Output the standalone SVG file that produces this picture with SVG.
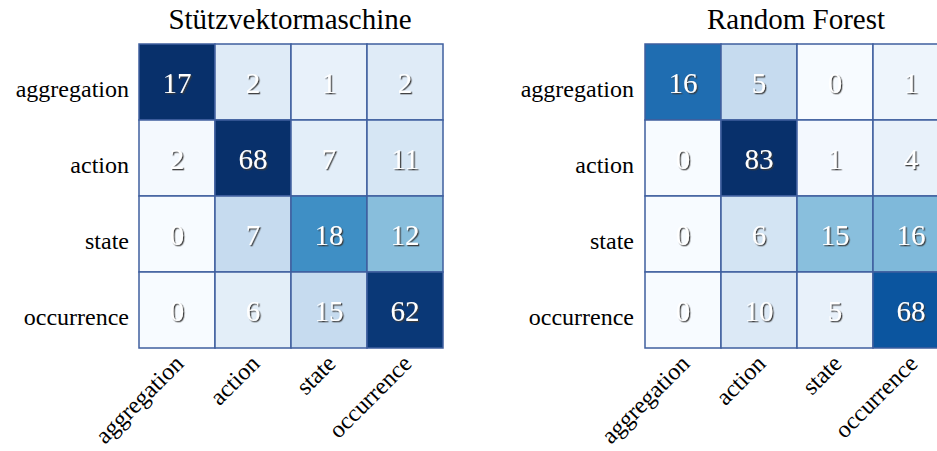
<svg xmlns="http://www.w3.org/2000/svg" width="937" height="451" viewBox="0 0 937 451" font-family="'Liberation Serif', 'Times New Roman', serif">
<defs>
<filter id="sh" x="-20%" y="-20%" width="140%" height="140%">
<feDropShadow dx="1.3" dy="1.3" stdDeviation="0.6" flood-color="#3a3a3a" flood-opacity="0.95"/>
</filter>
</defs>
<style>
.title{font-family:"Liberation Serif","Times New Roman",serif;font-size:29px;fill:#000;text-anchor:middle;}
.yl{font-family:"Liberation Serif","Times New Roman",serif;font-size:24px;fill:#000;text-anchor:end;}
.xl{font-family:"Liberation Serif","Times New Roman",serif;font-size:24px;fill:#000;text-anchor:end;}
.num{font-family:"Liberation Serif","Times New Roman",serif;font-size:29px;fill:#fff;text-anchor:middle;filter:url(#sh);}
.cell{stroke:#3f5f9f;stroke-width:1.5;}
</style>
<rect width="937" height="451" fill="#fff"/>

<g id="svm">
<text class="title" x="290" y="29">Stützvektormaschine</text>
<g id="svm-cells">
<rect class="cell" x="139" y="44" width="76" height="76" fill="#08306b"/>
<rect class="cell" x="215" y="44" width="76" height="76" fill="#dfebf7"/>
<rect class="cell" x="291" y="44" width="76" height="76" fill="#e8f1fa"/>
<rect class="cell" x="367" y="44" width="76" height="76" fill="#dfebf7"/>
<rect class="cell" x="139" y="120" width="76" height="76" fill="#f4f9fe"/>
<rect class="cell" x="215" y="120" width="76" height="76" fill="#08306b"/>
<rect class="cell" x="291" y="120" width="76" height="76" fill="#e3eef9"/>
<rect class="cell" x="367" y="120" width="76" height="76" fill="#d6e6f4"/>
<rect class="cell" x="139" y="196" width="76" height="76" fill="#f7fbff"/>
<rect class="cell" x="215" y="196" width="76" height="76" fill="#c6dbef"/>
<rect class="cell" x="291" y="196" width="76" height="76" fill="#3f8fc5"/>
<rect class="cell" x="367" y="196" width="76" height="76" fill="#88bedc"/>
<rect class="cell" x="139" y="272" width="76" height="76" fill="#f7fbff"/>
<rect class="cell" x="215" y="272" width="76" height="76" fill="#e3eef8"/>
<rect class="cell" x="291" y="272" width="76" height="76" fill="#c6dbef"/>
<rect class="cell" x="367" y="272" width="76" height="76" fill="#0a3877"/>
</g>
<g id="svm-values">
<text class="num" x="177" y="93">17</text>
<text class="num" x="253" y="93">2</text>
<text class="num" x="329" y="93">1</text>
<text class="num" x="405" y="93">2</text>
<text class="num" x="177" y="169">2</text>
<text class="num" x="253" y="169">68</text>
<text class="num" x="329" y="169">7</text>
<text class="num" x="405" y="169">11</text>
<text class="num" x="177" y="245">0</text>
<text class="num" x="253" y="245">7</text>
<text class="num" x="329" y="245">18</text>
<text class="num" x="405" y="245">12</text>
<text class="num" x="177" y="321">0</text>
<text class="num" x="253" y="321">6</text>
<text class="num" x="329" y="321">15</text>
<text class="num" x="405" y="321">62</text>
</g>
<g id="svm-ylabels">
<text class="yl" x="129" y="97">aggregation</text>
<text class="yl" x="129" y="173">action</text>
<text class="yl" x="129" y="249">state</text>
<text class="yl" x="129" y="325">occurrence</text>
</g>
<g id="svm-xlabels">
<text class="xl" transform="translate(185,365) rotate(-45)">aggregation</text>
<text class="xl" transform="translate(261,365) rotate(-45)">action</text>
<text class="xl" transform="translate(337,365) rotate(-45)">state</text>
<text class="xl" transform="translate(413,365) rotate(-45)">occurrence</text>
</g>
</g>

<g id="rf">
<text class="title" x="796" y="29">Random Forest</text>
<g id="rf-cells">
<rect class="cell" x="645" y="44" width="76" height="76" fill="#1f6db1"/>
<rect class="cell" x="721" y="44" width="76" height="76" fill="#c6dbef"/>
<rect class="cell" x="797" y="44" width="76" height="76" fill="#f7fbff"/>
<rect class="cell" x="873" y="44" width="76" height="76" fill="#eef5fc"/>
<rect class="cell" x="645" y="120" width="76" height="76" fill="#f7fbff"/>
<rect class="cell" x="721" y="120" width="76" height="76" fill="#08306b"/>
<rect class="cell" x="797" y="120" width="76" height="76" fill="#f3f8fe"/>
<rect class="cell" x="873" y="120" width="76" height="76" fill="#e8f1fa"/>
<rect class="cell" x="645" y="196" width="76" height="76" fill="#f7fbff"/>
<rect class="cell" x="721" y="196" width="76" height="76" fill="#d3e4f3"/>
<rect class="cell" x="797" y="196" width="76" height="76" fill="#89bfdd"/>
<rect class="cell" x="873" y="196" width="76" height="76" fill="#7fb9da"/>
<rect class="cell" x="645" y="272" width="76" height="76" fill="#f7fbff"/>
<rect class="cell" x="721" y="272" width="76" height="76" fill="#dce9f6"/>
<rect class="cell" x="797" y="272" width="76" height="76" fill="#e8f1fa"/>
<rect class="cell" x="873" y="272" width="76" height="76" fill="#0b559f"/>
</g>
<g id="rf-values">
<text class="num" x="683" y="93">16</text>
<text class="num" x="759" y="93">5</text>
<text class="num" x="835" y="93">0</text>
<text class="num" x="911" y="93">1</text>
<text class="num" x="683" y="169">0</text>
<text class="num" x="759" y="169">83</text>
<text class="num" x="835" y="169">1</text>
<text class="num" x="911" y="169">4</text>
<text class="num" x="683" y="245">0</text>
<text class="num" x="759" y="245">6</text>
<text class="num" x="835" y="245">15</text>
<text class="num" x="911" y="245">16</text>
<text class="num" x="683" y="321">0</text>
<text class="num" x="759" y="321">10</text>
<text class="num" x="835" y="321">5</text>
<text class="num" x="911" y="321">68</text>
</g>
<g id="rf-ylabels">
<text class="yl" x="634" y="97">aggregation</text>
<text class="yl" x="634" y="173">action</text>
<text class="yl" x="634" y="249">state</text>
<text class="yl" x="634" y="325">occurrence</text>
</g>
<g id="rf-xlabels">
<text class="xl" transform="translate(691,365) rotate(-45)">aggregation</text>
<text class="xl" transform="translate(767,365) rotate(-45)">action</text>
<text class="xl" transform="translate(843,365) rotate(-45)">state</text>
<text class="xl" transform="translate(919,365) rotate(-45)">occurrence</text>
</g>
</g>
</svg>
